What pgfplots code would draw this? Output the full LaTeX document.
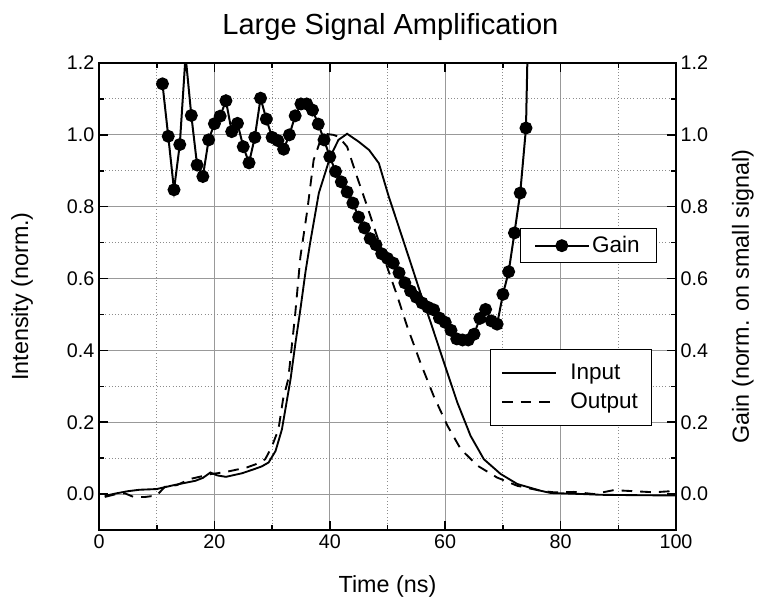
\documentclass[border=0pt]{standalone}
\usepackage{fontspec}
\setmainfont{Liberation Sans}
\usepackage{pgfplots}
\pgfplotsset{compat=1.18}

\pgfplotstableread{
x y
1 -0.005
3 0.002
5 0.008
7 0.012
10 0.014
13 0.025
16.7 0.037
18 0.045
19.3 0.060
20.5 0.052
22 0.048
24.8 0.058
27 0.070
28.2 0.077
29.4 0.088
30.6 0.120
31.7 0.180
32.6 0.264
33.2 0.320
34.0 0.415
34.9 0.514
35.8 0.620
36.6 0.700
38.1 0.838
40.1 0.940
41.5 0.986
43.0 1.003
45.0 0.981
46.8 0.958
48.5 0.921
50.2 0.829
52.3 0.727
54.0 0.644
55.7 0.560
57.5 0.477
59.5 0.380
62.1 0.255
64.4 0.162
66.7 0.097
69.6 0.056
72.5 0.028
76.6 0.009
78.3 0.003
84 0.000
87 -0.002
92.7 -0.003
100 -0.004
}\inputdata

\pgfplotstableread{
x y
1 -0.008
3 0.000
4.5 0.002
6 -0.008
8 -0.008
10 -0.004
11.4 0.020
13.5 0.025
15.8 0.042
19.5 0.056
20.5 0.058
22.1 0.062
25.6 0.074
27.5 0.085
28.8 0.097
29.9 0.130
31.1 0.180
31.9 0.264
32.8 0.320
34.0 0.500
34.9 0.660
36.1 0.790
37.2 0.930
38.4 0.986
39.6 1.002
40.6 1.000
41.5 0.995
43.0 0.967
44.7 0.884
46.5 0.800
48.2 0.717
49.9 0.634
51.7 0.551
53.4 0.467
55.7 0.366
58.0 0.273
60.4 0.190
62.7 0.125
65.6 0.079
69.0 0.046
72.5 0.023
76.6 0.009
78.8 0.005
82.3 0.006
85.8 0.000
89.2 0.011
92.7 0.008
96.2 0.005
100 0.009
}\outputdata

\pgfplotstableread{
x y
11 1.142
12 0.996
13 0.847
14 0.973
15 1.220
16 1.054
17 0.916
18 0.884
19 0.986
20 1.031
21 1.052
22 1.095
23 1.009
24 1.032
25 0.967
26 0.922
27 0.993
28 1.102
29 1.044
30 0.993
31 0.984
32 0.960
33 1.000
34 1.053
35 1.086
36 1.086
37 1.069
38 1.030
39 0.986
40 0.939
41 0.898
42 0.869
43 0.841
44 0.810
45 0.771
46 0.741
47 0.711
48 0.694
49 0.669
50 0.656
51 0.643
52 0.616
53 0.588
54 0.565
55 0.548
56 0.532
57 0.520
58 0.513
59 0.490
60 0.478
61 0.456
62 0.432
63 0.429
64 0.429
65 0.445
66 0.489
67 0.514
68 0.482
69 0.473
70 0.556
71 0.619
72 0.727
73 0.838
74 1.019
75 1.800
}\gaindata

\pgfplotsset{
  common/.style={
    width=432.75pt, height=350.25pt, scale only axis,
    xmin=0, xmax=100, ymin=-0.1, ymax=1.2,
    xtick={0,20,40,60,80,100},
    ytick={0,0.2,0.4,0.6,0.8,1.0,1.2},
    minor x tick num=1, minor y tick num=1,
    tick align=inside,
    major tick length=6.75pt, minor tick length=3.75pt,
    axis line style={line width=1.5pt},
    every tick/.style={black, line width=1.2pt},
    tick label style={font=\fontsize{14.8}{16}\selectfont},
    yticklabel style={/pgf/number format/.cd, fixed, fixed zerofill, precision=1},
    /pgf/number format/assume math mode=true,
    label style={font=\fontsize{17.5}{20}\selectfont},
    clip=true,
  }
}

\begin{document}
\begin{tikzpicture}
\begin{axis}[common, name=ax,
  grid=both,
  major grid style={black!40, line width=0.7pt},
  minor grid style={black!45, dotted, line width=0.7pt},
  xtick pos=both, ytick pos=both,
  xticklabel pos=lower, yticklabel pos=left,
  xlabel={Time (ns)}, ylabel={Intensity (norm.)},
  title={Large Signal Amplification},
  every axis title shift=0pt,
  title style={font=\fontsize{21.8}{24}\selectfont, at={(axis description cs:0.505,1.078)}, anchor=center, yshift=0pt, inner sep=0pt},
  xlabel style={at={(axis description cs:0.5,-0.12)}, anchor=center},
  ylabel style={at={(axis description cs:-0.1334,0.5)}, anchor=center},
  legend style={at={(axis description cs:0.958,0.3876)}, anchor=north east,
    draw=black, line width=0.8pt, fill=white,
    font=\fontsize{16.9}{19}\selectfont, cells={anchor=west},
    inner xsep=8pt, inner ysep=9pt, row sep=4.5pt},
  legend image code/.code={\draw[#1] (0pt,0pt) -- (40.5pt,0pt); \path (48.5pt,0pt);},
]
\addplot[black, line width=1.4pt] table[x=x,y=y]{\inputdata};
\addlegendentry{Input}
\addplot[black, line width=1.4pt, dash pattern=on 8pt off 6pt] table[x=x,y=y]{\outputdata};
\addlegendentry{Output}
\end{axis}
\begin{axis}[common,
  hide x axis,
  axis y line*=right,
  ylabel={Gain (norm. on small signal)},
  ylabel style={at={(axis description cs:1.116,0.5)}, anchor=center},
  legend style={at={(axis description cs:0.967,0.6467)}, anchor=north east,
    draw=black, line width=0.8pt, fill=white,
    font=\fontsize{16.9}{19}\selectfont, cells={anchor=west},
    inner xsep=10.5pt, inner ysep=4pt},
  legend image code/.code={\draw[mark repeat=2,mark phase=2,#1] plot coordinates {(0pt,0pt)(20pt,0pt)(40pt,0pt)};},
]
\addplot[black, line width=1.5pt, mark=*, mark size=4.1pt] table[x=x,y=y]{\gaindata};
\addlegendentry{Gain}
\end{axis}
\path (ax.south west) ++(-74.25pt,-54.75pt) rectangle ++(570pt,452.25pt);
\end{tikzpicture}
\end{document}
